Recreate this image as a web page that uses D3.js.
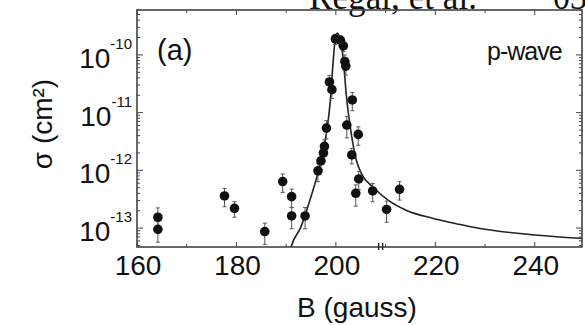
<!DOCTYPE html>
<html lang="en">
<head>
<meta charset="utf-8" />
<script src="https://cdn.jsdelivr.net/npm/d3@7"></script>
<style>
  body { margin: 0; background: #fff; }
  text { font-family: "Liberation Sans", Arial, sans-serif; fill: #111; }
</style>
</head>
<body>
<svg id="chart" width="585" height="325"></svg>
<script>
// measured cross sections (B in gauss, sigma in cm^2)
var fieldB = [164.2, 164.2, 177.6, 179.6, 185.7, 189.3, 191.1, 191.1, 193.8, 196.4,
              197.0, 197.5, 197.7, 198.1, 198.7, 199.2, 199.9, 200.9, 201.5, 201.8,
              202.0, 202.2, 203.3, 203.2, 204.0, 204.5, 204.6, 207.4, 210.2, 212.8];
var sigma  = [1.54e-13, 9.5e-14, 3.6e-13, 2.2e-13, 8.7e-14, 6.4e-13, 3.5e-13, 1.62e-13, 1.62e-13, 9.8e-13,
              1.46e-12, 2.0e-12, 2.6e-12, 5.4e-12, 3.4e-11, 2.5e-11, 1.9e-10, 1.8e-10, 1.43e-10, 7.7e-11,
              6.4e-11, 6.1e-12, 1.66e-11, 1.85e-12, 4.0e-13, 4.2e-12, 7.1e-13, 4.4e-13, 2.1e-13, 4.7e-13];
var errFrac = [0.45, 0.4, 0.35, 0.3, 0.4, 0.35, 0.35, 0.4, 0.4, 0.35,
               0.3, 0.3, 0.3, 0.35, 0.3, 0.3, 0.2, 0.2, 0.2, 0.3,
               0.3, 0.4, 0.35, 0.3, 0.4, 0.35, 0.35, 0.35, 0.4, 0.35];

// theory curve
var fitB     = [190.6, 191.0, 193.0, 194.7, 196.0, 197.0, 198.2, 198.9, 199.4, 199.8,
                200.3, 200.9, 201.5, 202.1, 202.9, 204.1, 205.3, 207.4, 210.7, 214.0,
                219.4, 224.4, 228.7, 240.1, 249.2, 252.0];
var fitSigma = [3.4e-14, 4.7e-14, 1.06e-13, 2.9e-13, 6.8e-13, 1.46e-12, 5.0e-12, 1.66e-11, 6.7e-11, 1.68e-10,
                2.4e-10, 1.8e-10, 8.2e-11, 2.0e-11, 5.6e-12, 1.51e-12, 8.3e-13, 5.2e-13, 2.95e-13, 2.06e-13,
                1.48e-13, 1.18e-13, 9.9e-14, 7.6e-14, 6.65e-14, 6.5e-14];

var xMajor = [160, 180, 200, 220, 240];
var xMinor = [170, 190, 210, 230];
var yDecades = [-13, -12, -11, -10];
var breakMarks = [208.6, 209.4];

var svg = d3.select("#chart");
var pLeft = 137, pRight = 582, pTop = 10, pBottom = 247;

var x = d3.scaleLinear().domain([160, 249.5]).range([pLeft, pRight]);
var y = d3.scaleLog().domain([4.7e-14, 6e-10]).range([pBottom, pTop]);

svg.append("clipPath").attr("id", "plotclip")
  .append("rect").attr("x", pLeft).attr("y", pTop)
  .attr("width", pRight - pLeft).attr("height", pBottom - pTop);

// header text, cut at the top of the page like the scan
svg.append("text").attr("x", 309).attr("y", 9)
  .attr("font-family", "Liberation Serif, Times New Roman, serif")
  .attr("font-size", 36)
  .style("font-family", "'Liberation Serif', serif")
  .style("font-size", "36px")
  .attr("textLength", 168).attr("lengthAdjust", "spacingAndGlyphs")
  .text("Regal, et al.");
svg.append("text").attr("x", 553).attr("y", 9)
  .attr("font-size", 36)
  .style("font-family", "'Liberation Serif', serif")
  .style("font-size", "36px")
  .attr("textLength", 34).attr("lengthAdjust", "spacingAndGlyphs")
  .text("03");

var plot = svg.append("g").attr("clip-path", "url(#plotclip)");

// fit curve
var line = d3.line()
  .x(function(d, i) { return x(fitB[i]); })
  .y(function(d) { return y(d); })
  .curve(d3.curveMonotoneX);
plot.append("path").datum(fitSigma)
  .attr("d", line)
  .attr("fill", "none").attr("stroke", "#222").attr("stroke-width", 1.6);

// error bars
var eb = plot.append("g").attr("stroke", "#555").attr("stroke-width", 1);
sigma.forEach(function(s, i) {
  var lo = y(s * (1 - errFrac[i])), hi = y(s * (1 + errFrac[i])), cx = x(fieldB[i]);
  eb.append("line").attr("x1", cx).attr("x2", cx).attr("y1", lo).attr("y2", hi);
  eb.append("line").attr("x1", cx - 2).attr("x2", cx + 2).attr("y1", lo).attr("y2", lo);
  eb.append("line").attr("x1", cx - 2).attr("x2", cx + 2).attr("y1", hi).attr("y2", hi);
});

// points
plot.selectAll("circle.pt").data(sigma).enter().append("circle")
  .attr("class", "pt")
  .attr("cx", function(d, i) { return x(fieldB[i]); })
  .attr("cy", function(d) { return y(d); })
  .attr("r", 4.8)
  .attr("fill", "#111");

// ticks (inward, all four sides)
var tg = svg.append("g").attr("stroke", "#444").attr("stroke-width", 1);
xMajor.concat(xMinor).forEach(function(v) {
  var len = xMajor.indexOf(v) >= 0 ? 5 : 3;
  tg.append("line").attr("x1", x(v)).attr("x2", x(v)).attr("y1", pBottom).attr("y2", pBottom - len);
  tg.append("line").attr("x1", x(v)).attr("x2", x(v)).attr("y1", pTop).attr("y2", pTop + len);
});
y.ticks().forEach(function(v) {
  var isMajor = Math.abs(Math.log10(v) - Math.round(Math.log10(v))) < 1e-6;
  var len = isMajor ? 6 : 3;
  tg.append("line").attr("x1", pLeft).attr("x2", pLeft + len).attr("y1", y(v)).attr("y2", y(v));
  tg.append("line").attr("x1", pRight).attr("x2", pRight - len).attr("y1", y(v)).attr("y2", y(v));
});

// frame
svg.append("rect").attr("x", pLeft).attr("y", pTop)
  .attr("width", pRight - pLeft).attr("height", pBottom - pTop)
  .attr("fill", "none").attr("stroke", "#444").attr("stroke-width", 1.6);

// little double mark on the bottom axis
breakMarks.forEach(function(b) {
  svg.append("line").attr("x1", x(b)).attr("x2", x(b))
    .attr("y1", pBottom - 4).attr("y2", pBottom + 3)
    .attr("stroke", "#222").attr("stroke-width", 1.4);
});

// x tick labels
xMajor.forEach(function(v) {
  svg.append("text").attr("x", x(v) + 1).attr("y", 275)
    .attr("text-anchor", "middle").style("font-size", "28px").text(v);
});

// y tick labels
yDecades.forEach(function(p) {
  var t = svg.append("text").attr("x", 132).attr("y", y(Math.pow(10, p)) + 13)
    .attr("text-anchor", "end");
  t.append("tspan").style("font-size", "28px").text("10");
  t.append("tspan").attr("dy", -19).style("font-size", "15px").text(String(p));
});

// axis titles
svg.append("text").attr("x", 357).attr("y", 317)
  .attr("text-anchor", "middle").style("font-size", "28px").text("B (gauss)");
svg.append("text")
  .attr("transform", "translate(52,124) rotate(-90)")
  .attr("text-anchor", "middle").style("font-size", "28px").text("σ (cm²)");

// panel labels
svg.append("text").attr("x", 157).attr("y", 60).style("font-size", "29px").text("(a)");
svg.append("text").attr("x", 487).attr("y", 60).style("font-size", "25px")
  .style("letter-spacing", "-1px").text("p-wave");
</script>
</body>
</html>
